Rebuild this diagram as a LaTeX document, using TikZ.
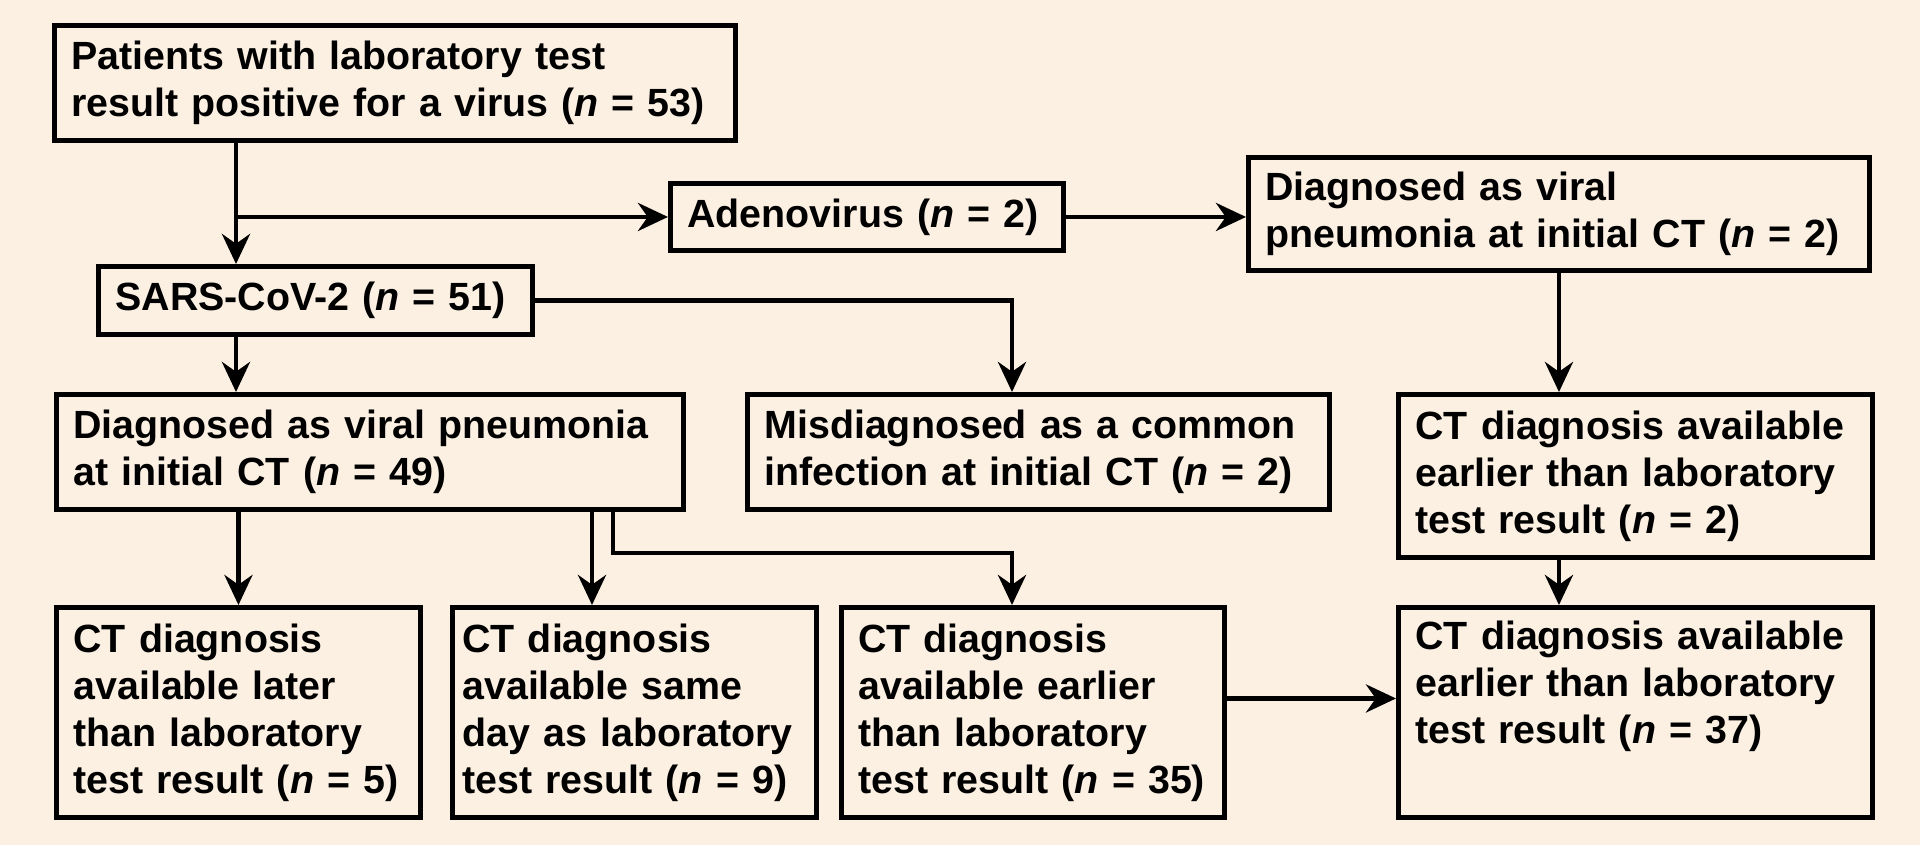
\documentclass[tikz,border=0pt]{standalone}
\usepackage{fontspec}
\setmainfont{Liberation Sans}
\usetikzlibrary{arrows.meta,positioning}
\definecolor{bakgrund}{RGB}{252,240,227}
\tikzset{
    %Define standard arrow tip
    >={Stealth[length=3mm,width=2.8mm]},
    %Define style for boxes
    ruta/.style={
           rectangle,
           draw=black, line width=1.4pt,
           anchor=north west,
           inner xsep=0.17cm,
           align=left,
           font=\bfseries\fontsize{11.2}{13.4}\selectfont},
    % Define arrow style
    pil/.style={
           ->,
           line width=1.4pt}
}
\begin{document}
\begin{tikzpicture}
		\fill[bakgrund] (0,0) rectangle (19.2,-8.45);
		\node[ruta, text width=6.47cm, minimum height=1.15cm] (patients) at (0.52,-0.23) {Patients with laboratory test\\result positive for a virus (\textit{n} = 53)};
		\node[ruta, text width=3.59cm, minimum height=0.67cm] (adeno) at (6.68,-1.81) {Adenovirus (\textit{n} = 2)};
		\node[ruta, text width=5.87cm, minimum height=1.13cm] (viraltwo) at (12.46,-1.55) {Diagnosed as viral\\pneumonia at initial CT (\textit{n} = 2)};
		\node[ruta, text width=4.00cm, minimum height=0.68cm] (sars) at (0.96,-2.64) {SARS-CoV-2 (\textit{n} = 51)};
		\node[ruta, text width=5.93cm, minimum height=1.15cm] (viral) at (0.54,-3.92) {Diagnosed as viral pneumonia\\at initial CT (\textit{n} = 49)};
		\node[ruta, text width=5.48cm, minimum height=1.15cm] (misdiag) at (7.45,-3.92) {Misdiagnosed as a common\\infection at initial CT (\textit{n} = 2)};
		\node[ruta, text width=4.40cm, minimum height=1.63cm] (earlytwo) at (13.96,-3.92) {CT diagnosis available\\earlier than laboratory\\test result (\textit{n} = 2)};
		\node[ruta, text width=3.30cm, minimum height=2.10cm] (later) at (0.54,-6.05) {CT diagnosis\\available later\\than laboratory\\test result (\textit{n} = 5)};
		\node[ruta, text width=3.44cm, inner xsep=0.10cm, minimum height=2.10cm, right=0.27cm of later] (same) {CT diagnosis\\available same\\day as laboratory\\test result (\textit{n} = 9)};
		\node[ruta, text width=3.49cm, minimum height=2.10cm, right=0.20cm of same] (earlier) {CT diagnosis\\available earlier\\than laboratory\\test result (\textit{n} = 35)};
		\node[ruta, text width=4.40cm, minimum height=2.10cm] (total) at (13.96,-6.05) {CT diagnosis available\\earlier than laboratory\\test result (\textit{n} = 37)\\\strut};
		% turning points of the connectors
		\coordinate (stam) at (2.36,0);
		\coordinate (mid) at (5.92,0);
		\coordinate (knee) at (6.13,-5.53);
		\coordinate (drop) at (10.12,-5.53);
		\draw[pil] (patients.south -| stam) -- (sars.north -| stam);
		\draw[pil] (adeno.west -| stam) -- (adeno.west);
		\draw[pil] (adeno.east) -- (adeno.east -| viraltwo.west);
		\draw[pil] (sars.east) -| (misdiag.north -| drop);
		\draw[pil] (sars.south -| stam) -- (viral.north -| stam);
		\draw[pil] (viraltwo.south) -- (viraltwo.south |- earlytwo.north);
		\draw[pil] (viral.south -| later.north) -- (later.north);
		\draw[pil] (viral.south -| mid) -- (same.north -| mid);
		\draw[pil] (viral.south -| knee) -- (knee) -- (drop) -- (earlier.north -| drop);
		\draw[pil] ([yshift=0.14cm]earlier.east) -- ([yshift=0.14cm]earlier.east -| total.west);
		\draw[pil] (earlytwo.south -| viraltwo.south) -- (total.north -| viraltwo.south);
	\end{tikzpicture}
\end{document}
